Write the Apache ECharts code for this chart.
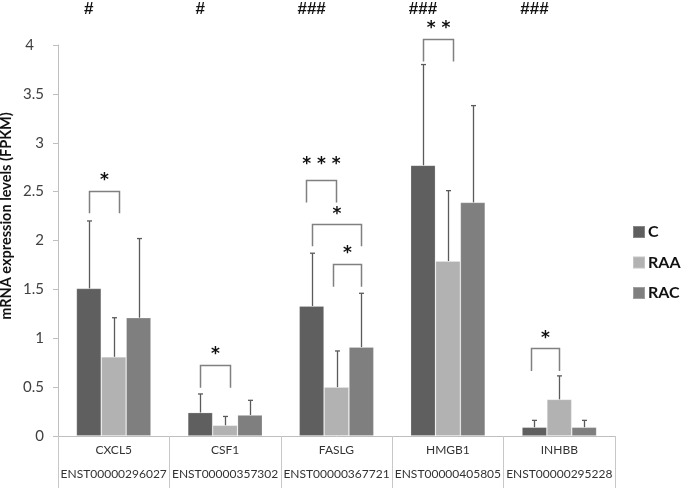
<!DOCTYPE html>
<html>
<head>
<meta charset="utf-8">
<script src="https://cdn.jsdelivr.net/npm/echarts@6/dist/echarts.min.js"></script>
<style>html,body{margin:0;padding:0;background:#fff}#c{width:685px;height:490px}</style>
</head>
<body>
<div id="c"></div>
<script>
// ---- data ----
var genes = ['CXCL5', 'CSF1', 'FASLG', 'HMGB1', 'INHBB'];
var transcripts = ['ENST00000296027', 'ENST00000357302', 'ENST00000367721', 'ENST00000405805', 'ENST00000295228'];
var seriesNames = ['C', 'RAA', 'RAC'];
var C_vals   = [1.51, 0.24, 1.33, 2.77, 0.09];
var RAA_vals = [0.81, 0.11, 0.50, 1.79, 0.375];
var RAC_vals = [1.21, 0.215, 0.91, 2.39, 0.09];
var C_sd   = [0.69, 0.19, 0.54, 1.03, 0.07];
var RAA_sd = [0.40, 0.09, 0.37, 0.72, 0.24];
var RAC_sd = [0.81, 0.15, 0.55, 0.99, 0.07];
var yTicks = [0, 0.5, 1, 1.5, 2, 2.5, 3, 3.5, 4];
var hashMarks = ['#', '#', '###', '###', '###'];
// brackets: [category, leftBar, rightBar, topY, leftLegBottomY, rightLegBottomY, label, labelY]
var brackets = [
  [0, 0, 1.2, 2.51, 2.28, 2.28, '*', 2.61],
  [1, 0, 1.2, 0.726, 0.494, 0.494, '*', 0.83],
  [2, -0.22, 0.96, 2.62, 2.39, 2.39, '* * *', 2.78],
  [2, 0, 2.0, 2.166, 1.94, 1.94, '*', 2.27],
  [2, 0.86, 2.0, 1.757, 1.527, 1.527, '*', 1.87],
  [3, 0, 1.2, 4.06, 3.83, 3.83, '* *', 4.17],
  [4, -0.12, 1.0, 0.897, 0.665, 0.665, '*', 1.0]
];

var colors = ['#5f5f5f', '#b2b2b2', '#7f7f7f'];
var vals = [C_vals, RAA_vals, RAC_vals];
var sds = [C_sd, RAA_sd, RAC_sd];
var GAP = 0.33;
var FONT = 'Lato, "Open Sans", sans-serif';

function barX(api, cat, b) {
  var p = api.coord([cat, 0]);
  var cw = api.size([1, 0])[0];
  var bw = cw * (1 - GAP) / 3;
  return p[0] + (b - 1) * bw;
}

var errData = [];
for (var s = 0; s < 3; s++) {
  for (var i = 0; i < genes.length; i++) {
    errData.push([i, vals[s][i], sds[s][i], s]);
  }
}
var hashData = hashMarks.map(function (h, i) { return [i, 4.37, h]; });

var barSeries = seriesNames.map(function (n, s) {
  return {
    name: n, type: 'bar', data: vals[s],
    barGap: '0%', barCategoryGap: (GAP * 100) + '%',
    itemStyle: { color: colors[s], borderColor: 'rgba(255,255,255,0.25)', borderWidth: 0.8 },
    xAxisIndex: 0, yAxisIndex: 0, z: 2
  };
});

var option = {
  animation: false,
  backgroundColor: '#fff',
  textStyle: { fontFamily: FONT },
  legend: {
    orient: 'vertical', left: 627, top: 219,
    itemWidth: 12, itemHeight: 12, itemGap: 14.5,
    icon: 'rect',
    data: seriesNames,
    textStyle: { fontSize: 16, fontWeight: 'bold', color: '#111', fontFamily: FONT, padding: [0, 0, 0, -2] }
  },
  grid: { left: 58, right: 70, top: 45, bottom: 54, containLabel: false, outerBoundsMode: 'none' },
  xAxis: [{
    type: 'category', data: genes, position: 'bottom',
    axisLine: { lineStyle: { color: '#bfbfbf', width: 1 } },
    axisTick: { show: true, length: 52, interval: 0, lineStyle: { color: '#c8c8c8' } },
    axisLabel: { interval: 0, margin: 8, fontSize: 12, color: '#333', fontFamily: FONT },
    splitLine: { show: false }
  }, {
    type: 'category', data: transcripts, position: 'bottom', offset: 24,
    axisLine: { show: false }, axisTick: { show: false },
    axisLabel: { interval: 0, margin: 8, fontSize: 12, color: '#333', fontFamily: FONT }
  }],
  yAxis: {
    type: 'value', min: 0, max: 4, interval: 0.5,
    name: 'mRNA expression levels (FPKM)', nameLocation: 'middle', nameGap: 44, nameMoveOverlap: false,
    nameTextStyle: { fontSize: 14.5, fontWeight: 'bold', color: '#111', fontFamily: FONT, padding: [0, 0, 0, 49] },
    axisLine: { show: true, lineStyle: { color: '#bfbfbf' } },
    axisTick: { show: true, length: 5, lineStyle: { color: '#bfbfbf' } },
    axisLabel: { fontSize: 15, color: '#404040', margin: 14, fontFamily: FONT,
      formatter: function (v) {
        if (yTicks.indexOf(v) < 0) return '';
        return v === yTicks[yTicks.length - 1] ? '{top|' + v + '}' : String(v);
      },
      rich: { top: { fontSize: 15, color: '#404040', fontFamily: FONT, padding: [0, 10, 0, 0] } } },
    splitLine: { show: false }
  },
  series: barSeries.concat([
    {
      type: 'custom', name: 'err', data: errData, encode: { x: 0, y: 1 }, z: 3, clip: false,
      renderItem: function (params, api) {
        var cat = api.value(0), v = api.value(1), sd = api.value(2), b = api.value(3);
        var x = Math.round(barX(api, cat, b)) + 0.5;
        var y0 = api.coord([cat, v])[1];
        var y1 = api.coord([cat, v + sd])[1];
        return { type: 'group', children: [
          { type: 'line', shape: { x1: x, y1: y0, x2: x, y2: y1 }, style: { stroke: '#5a5a5a', lineWidth: 1.3 } },
          { type: 'line', shape: { x1: x - 2.5, y1: y1, x2: x + 2.5, y2: y1 }, style: { stroke: '#5a5a5a', lineWidth: 1.3 } }
        ] };
      }
    },
    {
      type: 'custom', name: 'brackets', data: brackets, encode: { x: 0, y: 3 }, z: 4, clip: false,
      renderItem: function (params, api) {
        var cat = api.value(0);
        var xl = Math.round(barX(api, cat, api.value(1) + 0)) + 0.5;
        var xr = Math.round(barX(api, cat, api.value(2) + 0)) + 0.5;
        var yt = Math.round(api.coord([cat, api.value(3)])[1]) + 0.5;
        var yl = api.coord([cat, api.value(4)])[1];
        var yr = api.coord([cat, api.value(5)])[1];
        var ty = api.coord([cat, api.value(7)])[1];
        var lbl = brackets[params.dataIndex][6];
        return { type: 'group', children: [
          { type: 'polyline', shape: { points: [[xl, yl], [xl, yt], [xr, yt], [xr, yr]] },
            style: { stroke: '#808080', lineWidth: 1.5, fill: null } },
          { type: 'text', x: (xl + xr) / 2, y: ty,
            style: { text: lbl, fontSize: 17, fontWeight: 'bold', fill: '#111', align: 'center', verticalAlign: 'middle', fontFamily: 'DejaVu Sans' } }
        ] };
      }
    },
    {
      type: 'custom', name: 'hash', data: hashData, encode: { x: 0, y: 1 }, z: 4, clip: false,
      renderItem: function (params, api) {
        var cat = api.value(0);
        var x = barX(api, cat, 0);
        var y = api.coord([cat, api.value(1)])[1];
        return { type: 'text', x: x, y: y,
          style: { text: hashData[params.dataIndex][2], fontSize: 17, fontWeight: 'bold', fill: '#111', align: 'center', verticalAlign: 'middle', fontFamily: 'Liberation Sans Narrow, Liberation Sans' } };
      }
    }
  ])
};

var chart = echarts.init(document.getElementById('c'), null, { renderer: 'canvas' });
chart.setOption(option);
</script>
</body>
</html>
